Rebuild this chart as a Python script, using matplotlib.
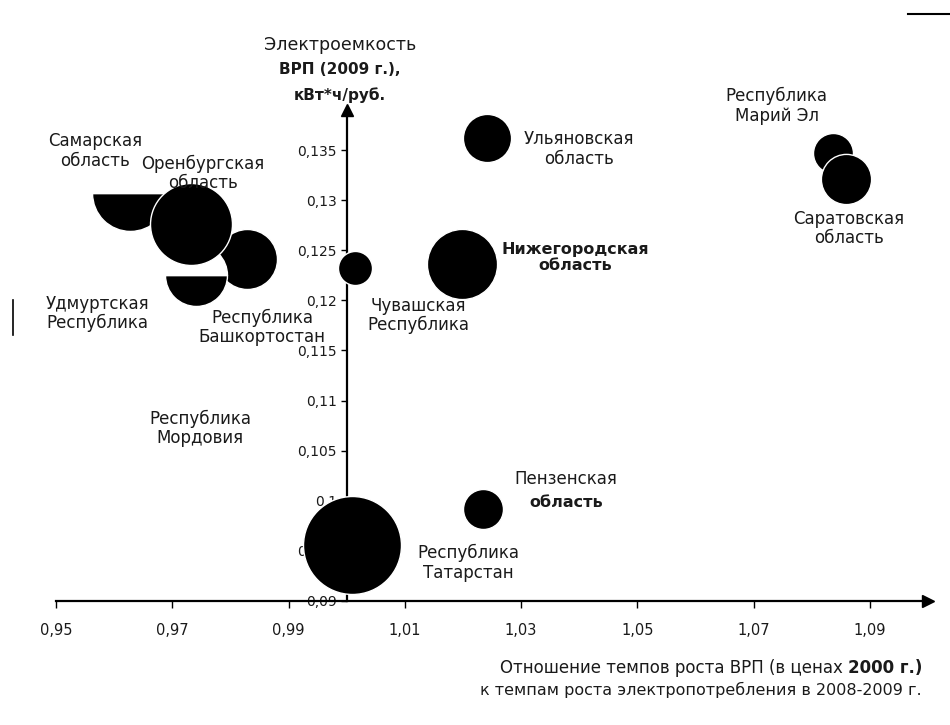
import numpy as np
import matplotlib
matplotlib.use("Agg")
import matplotlib.pyplot as plt
from matplotlib.lines import Line2D

plt.rcParams['font.family'] = ['DejaVu Sans']

# regions: x = GRP growth / consumption growth, y = electro-intensity, bubble = relative size
regions = ["Самарская область", "Республика Башкортостан", "Удмуртская Республика",
           "Оренбургская область", "Чувашская Республика", "Нижегородская область",
           "Ульяновская область", "Республика Марий Эл", "Саратовская область",
           "Пензенская область", "Республика Татарстан"]
ratio = [0.9627, 0.9829, 0.9741, 0.9732, 1.0015, 1.0199, 1.0242, 1.0836, 1.0859, 1.0234, 1.0010]
intensity = [0.1307, 0.1241, 0.1225, 0.1276, 0.1232, 0.1236, 0.1362, 0.1347, 0.1321, 0.0992, 0.0956]
bubble = [14.4, 9.0, 9.6, 16.8, 2.9, 12.3, 5.8, 4.0, 6.3, 4.0, 24.0]
half = [True, False, True, False, False, False, False, False, False, False, False]

xticks = [0.95, 0.97, 0.99, 1.01, 1.03, 1.05, 1.07, 1.09]
xticklabels = ["0,95", "0,97", "0,99", "1,01", "1,03", "1,05", "1,07", "1,09"]
yticks = [0.09, 0.095, 0.1, 0.105, 0.11, 0.115, 0.12, 0.125, 0.13, 0.135]
yticklabels = ["0,09", "0,095", "0,1", "0,105", "0,11", "0,115", "0,12", "0,125", "0,13", "0,135"]

# label text, position (data), bold
labels = [
    ("Самарская\nобласть", 0.9567, 0.1349, False),
    ("Оренбургская\nобласть", 0.9753, 0.1327, False),
    ("Удмуртская\nРеспублика", 0.9571, 0.1187, False),
    ("Республика\nБашкортостан", 0.9855, 0.1173, False),
    ("Республика\nМордовия", 0.9748, 0.1072, False),
    ("Чувашская\nРеспублика", 1.0123, 0.1185, False),
    ("Ульяновская\nобласть", 1.0399, 0.1351, False),
    ("Нижегородская\nобласть", 1.0394, 0.1243, True),
    ("Республика\nМарий Эл", 1.0740, 0.1394, False),
    ("Саратовская\nобласть", 1.0864, 0.1272, False),
    ("Республика\nТатарстан", 1.0209, 0.0938, False),
]

txt = '#1a1a1a'
fig = plt.figure(figsize=(9.5, 7.25), dpi=100)
ax = fig.add_axes([56/950, 124/725, 872/950, 491/725])
ax.set_xlim(0.95, 1.10)
ax.set_ylim(0.09, 0.139)

for s in ['top', 'right']:
    ax.spines[s].set_visible(False)
ax.spines['left'].set_position(('data', 1.0))
ax.spines['bottom'].set_position(('data', 0.09))
for s in ['left', 'bottom']:
    ax.spines[s].set_linewidth(1.6)
    ax.spines[s].set_color('black')

ax.set_xticks(xticks)
ax.set_xticklabels(xticklabels)
ax.set_yticks(yticks)
ax.set_yticklabels(yticklabels)
ax.tick_params(axis='x', direction='out', length=5, width=1, pad=11, labelsize=10.5, labelcolor=txt)
ax.tick_params(axis='y', direction='out', length=4, width=1, pad=3, labelsize=10, labelcolor=txt)

# arrow heads
ax.plot([1.10], [0.09], marker='>', ms=9, color='black', clip_on=False, zorder=4)
ax.plot([1.0], [0.139], marker='^', ms=9, color='black', clip_on=False, zorder=4)

# bubbles
for x, y, b, h in zip(ratio, intensity, bubble, half):
    d = np.sqrt(b) * 14.4
    if h:
        ax.plot(x, y, 'o', ms=d, mfc='black', mfcalt='white', fillstyle='bottom',
                mec='white', mew=1, zorder=3, clip_on=False)
    else:
        ax.plot(x, y, 'o', ms=d, mfc='black', mec='white', mew=1, zorder=3, clip_on=False)

for t, x, y, b in labels:
    ax.text(x, y, t, ha='center', va='center', fontsize=11.5 if b else 12, color=txt,
            fontweight='bold' if b else 'normal', linespacing=1.1, zorder=5)

# Penza label: first line normal, second bold
ax.text(1.0377, 0.1022, "Пензенская", ha='center', va='center', fontsize=12, color=txt, zorder=5)
ax.text(1.0377, 0.0998, "область", ha='center', va='center', fontsize=11.5, color=txt,
        fontweight='bold', zorder=5)

# y axis title
fig.text(340/950, 1 - 45/725, "Электроемкость", ha='center', va='center', fontsize=12.5, color=txt)
fig.text(340/950, 1 - 70/725, "ВРП (2009 г.),", ha='center', va='center', fontsize=11,
         color=txt, fontweight='bold')
fig.text(340/950, 1 - 95/725, "кВт*ч/руб.", ha='center', va='center', fontsize=11,
         color=txt, fontweight='bold')

# x axis title
t1 = fig.text(922/950, 1 - 673/725, "2000 г.)", ha='right', va='baseline', fontsize=12,
              color=txt, fontweight='bold')
ax.annotate("Отношение темпов роста ВРП (в ценах ", xy=(0, 0), xycoords=t1,
            xytext=(0, 0), textcoords='offset points',
            ha='right', va='bottom', fontsize=12, color=txt, annotation_clip=False)
fig.text(922/950, 1 - 690/725, "к темпам роста электропотребления в 2008-2009 г.",
         ha='right', va='center', fontsize=11.5, color=txt)

# stray marks of the source image
fig.add_artist(Line2D([13/950, 13/950], [1 - 300/725, 1 - 335/725], color='black', lw=1.2))
fig.add_artist(Line2D([908/950, 950/950], [1 - 14/725, 1 - 14/725], color='black', lw=1.5))

fig.savefig("out.png", dpi=100)
